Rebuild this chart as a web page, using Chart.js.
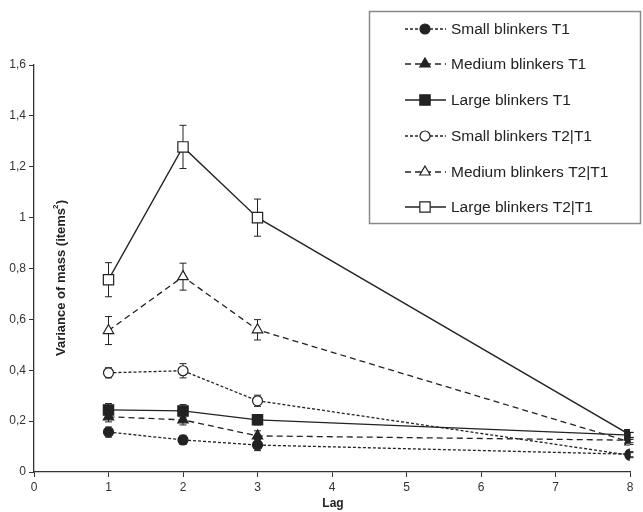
<!DOCTYPE html>
<html>
<head>
    <title>Variance of mass by lag</title>
    <script src="https://cdn.jsdelivr.net/npm/chart.js"></script>
    <style>
        body { margin: 0; background: #fff; }
        canvas { display: block; }
    </style>
</head>
<body>
    <canvas id="massChart" width="643" height="512"></canvas>

    <script>
        // values
        const lags = [1, 2, 3, 8];
        const yTicks = [0, 0.2, 0.4, 0.6, 0.8, 1, 1.2, 1.4, 1.6];

        const smallT1 = [0.157, 0.126, 0.106, 0.07];
        const mediumT1 = [0.217, 0.205, 0.142, 0.125];
        const largeT1 = [0.244, 0.240, 0.205, 0.145];
        const smallT2 = [0.390, 0.398, 0.280, 0.066];
        const mediumT2 = [0.556, 0.768, 0.559, 0.118];
        const largeT2 = [0.756, 1.278, 1.000, 0.146];

        const smallT1Err = [0.02, 0.018, 0.022, 0.01];
        const mediumT1Err = [0.02, 0.02, 0.02, 0.01];
        const largeT1Err = [0.025, 0.025, 0.02, 0.01];
        const smallT2Err = [0.02, 0.028, 0.022, 0.01];
        const mediumT2Err = [0.055, 0.053, 0.04, 0.01];
        const largeT2Err = [0.067, 0.085, 0.073, 0.01];

        const labels = ['Small blinkers T1', 'Medium blinkers T1', 'Large blinkers T1',
                        'Small blinkers T2|T1', 'Medium blinkers T2|T1', 'Large blinkers T2|T1'];

        const ink = '#222';
        const font = '"Liberation Sans", Arial, sans-serif';
        const dotted = [3, 2];
        const dashed = [6, 4];

        function pts(vals) {
            return vals.map((v, i) => ({ x: lags[i], y: v }));
        }

        function series(label, vals, errs, shape, filled, dash, size) {
            return {
                label: label,
                data: pts(vals),
                errors: errs,
                borderColor: ink,
                borderWidth: 1.3,
                borderDash: dash,
                pointStyle: shape,
                pointRadius: size,
                pointBorderWidth: 1.2,
                pointBorderColor: ink,
                pointBackgroundColor: filled ? ink : '#fff',
                tension: 0
            };
        }

        const datasets = [
            series(labels[0], smallT1, smallT1Err, 'circle', true, dotted, 5),
            series(labels[1], mediumT1, mediumT1Err, 'triangle', true, dashed, 6),
            series(labels[2], largeT1, largeT1Err, 'rect', true, [], 7.3),
            series(labels[3], smallT2, smallT2Err, 'circle', false, dotted, 5),
            series(labels[4], mediumT2, mediumT2Err, 'triangle', false, dashed, 6),
            series(labels[5], largeT2, largeT2Err, 'rect', false, [], 7.3)
        ];

        // error bars drawn under the markers
        const errorBars = {
            id: 'errorBars',
            beforeDatasetsDraw(chart) {
                const ctx = chart.ctx;
                const ys = chart.scales.y;
                ctx.save();
                ctx.strokeStyle = ink;
                ctx.lineWidth = 1;
                chart.data.datasets.forEach((ds, di) => {
                    const meta = chart.getDatasetMeta(di);
                    meta.data.forEach((p, i) => {
                        const v = ds.data[i].y;
                        const e = ds.errors[i];
                        const top = ys.getPixelForValue(v + e);
                        const bot = ys.getPixelForValue(v - e);
                        ctx.beginPath();
                        ctx.moveTo(p.x, top); ctx.lineTo(p.x, bot);
                        ctx.moveTo(p.x - 3.5, top); ctx.lineTo(p.x + 3.5, top);
                        ctx.moveTo(p.x - 3.5, bot); ctx.lineTo(p.x + 3.5, bot);
                        ctx.stroke();
                    });
                });
                ctx.restore();
            }
        };

        // axis titles and the boxed legend
        const decorations = {
            id: 'decorations',
            afterDraw(chart) {
                const ctx = chart.ctx;
                ctx.save();
                ctx.fillStyle = ink;
                ctx.font = 'bold 12px ' + font;
                ctx.textAlign = 'center';
                ctx.textBaseline = 'middle';
                ctx.fillText('Lag', 333, 504);

                const title = 'Variance of mass (items )';
                ctx.translate(61, 278);
                ctx.rotate(-Math.PI / 2);
                ctx.font = 'bold 13px ' + font;
                ctx.fillText(title, 0, 0);
                const w = ctx.measureText(title).width;
                const w2 = ctx.measureText(')').width;
                ctx.font = 'bold 8px ' + font;
                ctx.fillText('2', w / 2 - w2 - 2.5, -5);
                ctx.restore();

                // legend box
                ctx.save();
                ctx.strokeStyle = '#8a8a8a';
                ctx.lineWidth = 1.5;
                ctx.strokeRect(369.5, 11.5, 271, 212);
                const rows = [29, 64, 100, 136, 172, 207];
                ctx.font = '15.5px ' + font;
                ctx.textAlign = 'left';
                ctx.textBaseline = 'middle';
                chart.data.datasets.forEach((ds, i) => {
                    const y = rows[i];
                    ctx.strokeStyle = ink;
                    ctx.lineWidth = 1.3;
                    ctx.setLineDash(ds.borderDash);
                    ctx.beginPath();
                    ctx.moveTo(405, y); ctx.lineTo(446, y);
                    ctx.stroke();
                    ctx.setLineDash([]);
                    ctx.fillStyle = ds.pointBackgroundColor;
                    ctx.strokeStyle = ink;
                    ctx.lineWidth = 1.2;
                    Chart.helpers.drawPoint(ctx, {
                        pointStyle: ds.pointStyle,
                        radius: ds.pointRadius,
                        borderWidth: 1.2,
                        rotation: 0
                    }, 425, y);
                    ctx.fillStyle = ink;
                    ctx.fillText(ds.label, 451, y + 1);
                });
                ctx.restore();
            }
        };

        const ctx = document.getElementById('massChart').getContext('2d');
        new Chart(ctx, {
            type: 'line',
            data: { datasets: datasets },
            options: {
                responsive: false,
                animation: false,
                layout: { padding: { top: 65, right: 13, left: 0, bottom: 0 } },
                plugins: {
                    legend: { display: false },
                    tooltip: { enabled: false }
                },
                scales: {
                    x: {
                        type: 'linear',
                        min: 0,
                        max: 8,
                        afterFit(scale) { scale.height = 40; },
                        grid: { drawOnChartArea: false, drawTicks: true, tickLength: 5, color: '#333' },
                        border: { display: true, color: '#333', width: 1.3 },
                        ticks: {
                            stepSize: 1,
                            padding: 3,
                            color: '#333',
                            font: { family: font, size: 12 }
                        }
                    },
                    y: {
                        min: 0,
                        max: 1.6,
                        afterFit(scale) { scale.width = 34; },
                        afterBuildTicks(scale) { scale.ticks = yTicks.map(v => ({ value: v })); },
                        grid: { drawOnChartArea: false, drawTicks: true, tickLength: 5, color: '#333' },
                        border: { display: true, color: '#333', width: 1.3 },
                        ticks: {
                            padding: 3,
                            color: '#333',
                            font: { family: font, size: 12 },
                            callback: v => String(Number(v.toFixed(1))).replace('.', ',')
                        }
                    }
                }
            },
            plugins: [errorBars, decorations]
        });
    </script>
</body>
</html>
